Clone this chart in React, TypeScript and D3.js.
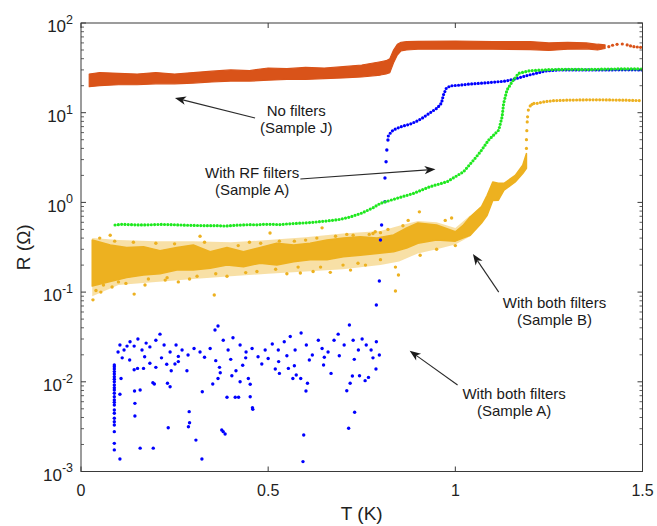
import React from "react";
import * as d3 from "d3";

const WIDTH = 657;
const HEIGHT = 526;

// ---- axes ----
const xTickValues = [0, 0.5, 1, 1.5];
const xTickLabels = ["0", "0.5", "1", "1.5"];
const yDecades = [-3, -2, -1, 0, 1, 2];
const xLabel = "T (K)";
const yLabel = "R (\u03A9)";

// ---- No filters (Sample J): dense noisy band, envelope ----
const jEnvT = [0.022, 0.05, 0.1, 0.15, 0.2, 0.25, 0.3, 0.35, 0.4, 0.45, 0.5, 0.55, 0.6, 0.65, 0.7, 0.75, 0.8, 0.815, 0.825, 0.835, 0.845, 0.855, 0.87, 0.9, 1.0, 1.1, 1.2, 1.25, 1.3, 1.35, 1.38, 1.4];
const jEnvLo = [19.5, 20.0, 20.5, 20.5, 21.0, 21.0, 21.4, 22.0, 22.5, 22.5, 23.0, 23.5, 23.5, 24.0, 24.4, 25.0, 26.3, 27.0, 28.0, 36.0, 44.0, 49.0, 50.0, 51.0, 51.0, 51.0, 50.5, 49.5, 51.0, 51.5, 50.0, 52.0];
const jEnvHi = [27.0, 28.0, 27.5, 27.0, 28.0, 27.0, 28.0, 29.0, 30.0, 29.5, 31.5, 31.0, 32.0, 31.5, 32.6, 34.0, 37.0, 38.0, 40.0, 50.0, 58.0, 61.0, 62.0, 62.5, 63.0, 62.0, 62.0, 60.0, 61.0, 60.0, 58.0, 57.0];
const jTailT = [1.41, 1.42, 1.432, 1.446, 1.459, 1.468, 1.477, 1.486, 1.495];
const jTailR = [54.5, 56.5, 57.8, 58.3, 57.0, 55.5, 54.5, 54.0, 53.6];

// ---- With RF filters (Sample A) ----
const rfT = [0.091, 0.11, 0.13, 0.155, 0.18, 0.21, 0.24, 0.265, 0.29, 0.315, 0.34, 0.365, 0.385, 0.41, 0.43, 0.45, 0.47, 0.49, 0.51, 0.53, 0.55, 0.58, 0.6, 0.62, 0.655, 0.69, 0.72, 0.75, 0.78, 0.8, 0.844, 0.888, 0.933, 0.978, 1.022, 1.049, 1.067, 1.089, 1.116, 1.125, 1.129, 1.138, 1.152, 1.169, 1.2, 1.25, 1.3, 1.35, 1.4, 1.45, 1.5];
const rfR = [0.56, 0.57, 0.565, 0.56, 0.562, 0.568, 0.565, 0.56, 0.555, 0.552, 0.55, 0.55, 0.545, 0.555, 0.56, 0.565, 0.562, 0.57, 0.57, 0.565, 0.575, 0.585, 0.592, 0.6, 0.62, 0.645, 0.69, 0.76, 0.87, 0.977, 1.11, 1.26, 1.5, 1.7, 2.2, 2.97, 3.67, 4.96, 6.41, 9.02, 12.7, 17.9, 22.2, 27.5, 29.4, 30.2, 30.5, 30.3, 30.6, 30.8, 30.7];

// ---- With both filters (Sample A) ----
const bothACurveT = [0.821, 0.826, 0.834, 0.853, 0.866, 0.88, 0.898, 0.91, 0.92, 0.93, 0.939, 0.952, 0.963, 0.968, 0.976, 0.987, 1.0, 1.013, 1.04, 1.075, 1.107, 1.134, 1.16, 1.187, 1.219, 1.241, 1.273, 1.32, 1.388, 1.44, 1.5];
const bothACurveR = [5.5, 5.9, 6.41, 6.93, 7.2, 7.48, 8.08, 8.6, 9.19, 9.8, 10.4, 11.3, 12.8, 15.7, 18.8, 19.9, 20.1, 20.3, 20.9, 21.4, 22.0, 22.5, 23.8, 25.7, 27.7, 29.2, 29.9, 30.0, 29.9, 30.1, 30.0];
const bothARiseT = [0.789, 0.797, 0.8, 0.803, 0.812, 0.812, 0.815, 0.817, 0.82];
const bothARiseR = [0.0718, 0.133, 0.381, 0.56, 1.02, 1.87, 2.84, 3.84, 4.96];
const bothAColumnT = 0.089;
const bothAColumnR = [0.0154, 0.0147, 0.0139, 0.013, 0.0122, 0.0114, 0.0107, 0.01, 0.0092, 0.0086, 0.0081, 0.00745, 0.00682, 0.00627, 0.0059, 0.00551, 0.00485, 0.00446, 0.00392, 0.00359, 0.0033, 0.00278, 0.00206, 0.00174];
const bothAScatter: [number, number][] = [
  [0.104, 0.00138], [0.104, 0.00726], [0.107, 0.0109], [0.142, 0.0136], [0.151, 0.0141], [0.167, 0.0141], [0.143, 0.00789], [0.144, 0.00575], [0.144, 0.00416], [0.158, 0.0081], [0.158, 0.00182], [0.184, 0.0161], [0.192, 0.00977], [0.196, 0.00945], [0.193, 0.00182], [0.2, 0.0145], [0.229, 0.0157], [0.231, 0.00962], [0.238, 0.00881], [0.233, 0.00308], [0.241, 0.0133], [0.251, 0.0158], [0.26, 0.0168], [0.283, 0.0133], [0.289, 0.00465], [0.29, 0.0035], [0.287, 0.00316], [0.307, 0.00224], [0.324, 0.00776], [0.323, 0.00138], [0.352, 0.00945], [0.366, 0.0109], [0.372, 0.0126], [0.37, 0.0145], [0.376, 0.0029], [0.38, 0.00278], [0.385, 0.00262], [0.39, 0.00672], [0.403, 0.0117], [0.412, 0.00672], [0.421, 0.00672], [0.414, 0.0133], [0.425, 0.01], [0.432, 0.0153], [0.447, 0.0109], [0.452, 0.00938], [0.452, 0.00682], [0.458, 0.00514], [0.459, 0.00493], [0.483, 0.0158], [0.519, 0.0139], [0.53, 0.0124], [0.528, 0.0168], [0.554, 0.0141], [0.566, 0.0109], [0.57, 0.0151], [0.575, 0.0119], [0.587, 0.0109], [0.601, 0.00789], [0.605, 0.00962], [0.595, 0.00255], [0.593, 0.00129], [0.648, 0.0154], [0.668, 0.0124], [0.71, 0.00796], [0.715, 0.00303], [0.719, 0.00962], [0.725, 0.0116], [0.731, 0.00457], [0.744, 0.0117], [0.759, 0.0103], [0.768, 0.0112], [0.788, 0.0139],
  [0.099, 0.0215], [0.104, 0.0257], [0.115, 0.0226], [0.123, 0.025], [0.131, 0.028], [0.142, 0.025], [0.152, 0.03], [0.163, 0.0226], [0.174, 0.027], [0.184, 0.0245], [0.2, 0.029], [0.211, 0.034], [0.222, 0.0257], [0.238, 0.0215], [0.254, 0.0257], [0.27, 0.0226], [0.286, 0.0199], [0.302, 0.0235], [0.318, 0.0215], [0.345, 0.0235], [0.358, 0.0378], [0.366, 0.0419], [0.38, 0.029], [0.393, 0.0226], [0.406, 0.031], [0.425, 0.0257], [0.441, 0.0215], [0.457, 0.0235], [0.473, 0.019], [0.492, 0.0226], [0.511, 0.0264], [0.527, 0.0226], [0.543, 0.028], [0.559, 0.032], [0.572, 0.0226], [0.588, 0.035], [0.602, 0.0257], [0.618, 0.0199], [0.634, 0.029], [0.644, 0.0235], [0.66, 0.0215], [0.676, 0.029], [0.687, 0.034], [0.703, 0.0257], [0.717, 0.043], [0.727, 0.029], [0.741, 0.0226], [0.751, 0.03], [0.762, 0.0257], [0.775, 0.0226], [0.789, 0.028], [0.797, 0.0199],
  [0.11, 0.0185], [0.13, 0.0175], [0.17, 0.019], [0.215, 0.0185], [0.26, 0.0192], [0.33, 0.0188], [0.36, 0.0172], [0.4, 0.0178], [0.44, 0.0185], [0.5, 0.0182], [0.55, 0.0195], [0.61, 0.0175], [0.65, 0.0188], [0.69, 0.0195], [0.73, 0.0178], [0.78, 0.0185],
];

// ---- With both filters (Sample B) ----
// dense core envelope
const bothBEnvT = [0.03, 0.078, 0.122, 0.167, 0.211, 0.256, 0.3, 0.345, 0.39, 0.434, 0.479, 0.523, 0.568, 0.612, 0.657, 0.701, 0.746, 0.791, 0.835, 0.87, 0.9, 0.95, 1.0, 1.02, 1.04, 1.07, 1.085, 1.1, 1.115, 1.13, 1.16, 1.18, 1.19];
const bothBEnvLo = [0.117, 0.131, 0.145, 0.155, 0.16, 0.176, 0.176, 0.184, 0.2, 0.192, 0.21, 0.2, 0.218, 0.23, 0.23, 0.248, 0.258, 0.27, 0.282, 0.31, 0.35, 0.38, 0.37, 0.4, 0.43, 0.59, 0.72, 1.05, 1.06, 1.37, 1.69, 2.1, 2.4];
const bothBEnvHi = [0.381, 0.335, 0.314, 0.321, 0.29, 0.314, 0.335, 0.282, 0.314, 0.282, 0.314, 0.35, 0.335, 0.35, 0.381, 0.4, 0.415, 0.4, 0.433, 0.52, 0.59, 0.56, 0.47, 0.55, 0.69, 0.9, 1.2, 1.69, 1.64, 1.63, 2.0, 2.6, 3.5];
// sparser outer spread of the noisy points
const bothBOuterT = [0.03, 0.1, 0.2, 0.3, 0.4, 0.5, 0.6, 0.7, 0.8, 0.85, 0.9, 0.95, 1.0, 1.04];
const bothBOuterLo = [0.09, 0.12, 0.13, 0.14, 0.15, 0.16, 0.17, 0.18, 0.2, 0.22, 0.27, 0.3, 0.34, 0.42];
const bothBOuterHi = [0.4, 0.38, 0.37, 0.37, 0.36, 0.38, 0.41, 0.45, 0.48, 0.55, 0.62, 0.6, 0.52, 0.72];
const bothBOutliers: [number, number][] = [
  [0.032, 0.082], [0.053, 0.1], [0.142, 0.095], [0.356, 0.093], [0.04, 0.104], [0.083, 0.114], [0.171, 0.12], [0.225, 0.136], [0.29, 0.14], [0.39, 0.15], [0.586, 0.163], [0.666, 0.166], [0.72, 0.176], [0.84, 0.19], [0.84, 0.103], [0.848, 0.155], [0.906, 0.258], [0.904, 0.785], [0.727, 0.43], [0.505, 0.456], [0.318, 0.42], [0.078, 0.43], [0.644, 0.52], [0.786, 0.47], [0.973, 0.63], [0.99, 0.67], [0.874, 0.63],
  [0.12, 0.125], [0.26, 0.13], [0.47, 0.17], [0.55, 0.16], [0.62, 0.17], [0.76, 0.2], [0.95, 0.3], [1.0, 0.33], [0.2, 0.35], [0.45, 0.36], [0.6, 0.38], [0.78, 0.45], [0.82, 0.5], [0.86, 0.55],
  [0.05, 0.4], [0.09, 0.37], [0.14, 0.36], [0.25, 0.345], [0.33, 0.36], [0.42, 0.33], [0.48, 0.35], [0.53, 0.37], [0.57, 0.37], [0.63, 0.4], [0.68, 0.42], [0.71, 0.44], [0.8, 0.46], [0.77, 0.44],
  [0.06, 0.12], [0.1, 0.13], [0.18, 0.14], [0.23, 0.145], [0.31, 0.15], [0.36, 0.16], [0.44, 0.165], [0.52, 0.18], [0.58, 0.19], [0.64, 0.19], [0.7, 0.2], [0.74, 0.21], [0.8, 0.23],
];
const bothBRiseT = [1.19, 1.19, 1.191, 1.192, 1.193, 1.195, 1.2, 1.205];
const bothBRiseR = [4.0, 5.0, 6.3, 7.9, 9.0, 10.7, 11.9, 12.4];
const bothBPlateauT = [1.21, 1.218, 1.236, 1.26, 1.3, 1.35, 1.4, 1.45, 1.5];
const bothBPlateauR = [12.7, 12.7, 13.2, 13.6, 13.8, 13.9, 13.9, 13.8, 13.6];

// ---- annotations ----
const annotations = [
  { lines: ["No filters", "(Sample J)"], T: 0.575, R: 9.18, tail: [0.465, 8.73], head: [0.251, 14.6] },
  { lines: ["With RF filters", "(Sample A)"], T: 0.457, R: 1.87, tail: [0.586, 1.82], head: [0.947, 2.34] },
  { lines: ["With both filters", "(Sample B)"], T: 1.265, R: 0.0665, tail: [1.116, 0.1], head: [1.047, 0.266] },
  { lines: ["With both filters", "(Sample A)"], T: 1.157, R: 0.00643, tail: [1.006, 0.0092], head: [0.878, 0.0222] },
];

const COL_J = "#D95319";
const COL_B = "#EDB120";
const COL_RF = "#1FE81F";
const COL_A = "#0000FF";
const FONT = "'Liberation Sans', Arial, Helvetica, sans-serif";

export default function App() {
  const x = d3.scaleLinear().domain([0, 1.5]).range([81, 642.5]);
  const y = d3.scaleLog().domain([1e-3, 1e2]).range([471.5, 23]);
  const [x0, x1] = x.range();
  const [yb, yt] = y.range();

  const areaPath = (T: number[], lo: number[], hi: number[]) =>
    d3.area<number>().x((_, i) => x(T[i])).y0((_, i) => y(lo[i])).y1((_, i) => y(hi[i]))(T) || "";
  const linePath = (T: number[], R: number[]) =>
    d3.line<number>().x((_, i) => x(T[i])).y((_, i) => y(R[i]))(T) || "";

  const minor: number[] = [];
  for (let k = -3; k < 2; k++) for (let m = 2; m <= 9; m++) minor.push(m * Math.pow(10, k));

  const dotted = { fill: "none", strokeLinecap: "round" as const, strokeDasharray: "0 3.3", strokeWidth: 3.2 };

  const arrow = (tail: number[], head: number[], key: number) => {
    const tx = x(tail[0]), ty = y(tail[1]), hx = x(head[0]), hy = y(head[1]);
    const a = Math.atan2(hy - ty, hx - tx);
    const L = 11, Wd = 4.2, N = 8;
    const cos = Math.cos(a), sin = Math.sin(a);
    const p = (along: number, perp: number) => `${hx - along * cos - perp * sin},${hy - along * sin + perp * cos}`;
    return (
      <g key={key}>
        <line x1={tx} y1={ty} x2={hx - N * cos} y2={hy - N * sin} stroke="#2a2a2a" strokeWidth={1.1} />
        <polygon points={`${p(0, 0)} ${p(L, Wd)} ${p(N, 0)} ${p(L, -Wd)}`} fill="#1a1a1a" />
      </g>
    );
  };

  return (
    <svg width={WIDTH} height={HEIGHT} style={{ position: "absolute", left: 0, top: 0, background: "#fff" }} fontFamily={FONT}>
      <rect x={0} y={0} width={WIDTH} height={HEIGHT} fill="#fff" />
      <defs>
        <clipPath id="plot">
          <rect x={x0} y={yt} width={x1 - x0} height={yb - yt} />
        </clipPath>
      </defs>

      <g clipPath="url(#plot)">
        {/* Sample B (yellow) */}
        <path d={areaPath(bothBOuterT, bothBOuterLo, bothBOuterHi)} fill={COL_B} fillOpacity={0.4} />
        <path d={areaPath(bothBEnvT, bothBEnvLo, bothBEnvHi)} fill={COL_B} stroke={COL_B} strokeWidth={1.5} strokeLinejoin="round" />
        {bothBOutliers.map(([t, r], i) => (
          <circle key={"bo" + i} cx={x(t)} cy={y(r)} r={1.7} fill={COL_B} />
        ))}
        {bothBRiseT.map((t, i) => (
          <circle key={"br" + i} cx={x(t)} cy={y(bothBRiseR[i])} r={1.6} fill={COL_B} />
        ))}
        <path d={linePath(bothBPlateauT, bothBPlateauR)} stroke={COL_B} {...dotted} />

        {/* Sample A both filters (blue) */}
        <path d={linePath(bothACurveT, bothACurveR)} stroke={COL_A} {...dotted} />
        {bothARiseT.map((t, i) => (
          <circle key={"ar" + i} cx={x(t)} cy={y(bothARiseR[i])} r={1.7} fill={COL_A} />
        ))}
        {bothAColumnR.map((r, i) => (
          <circle key={"ac" + i} cx={x(bothAColumnT)} cy={y(r)} r={1.7} fill={COL_A} />
        ))}
        {bothAScatter.map(([t, r], i) => (
          <circle key={"as" + i} cx={x(t)} cy={y(r)} r={1.7} fill={COL_A} />
        ))}

        {/* RF filters (green) */}
        <path d={linePath(rfT, rfR)} stroke={COL_RF} {...dotted} />

        {/* Sample J (orange) */}
        <path d={areaPath(jEnvT, jEnvLo, jEnvHi)} fill={COL_J} stroke={COL_J} strokeWidth={1.2} strokeLinejoin="round" />
        {jTailT.map((t, i) => (
          <circle key={"jt" + i} cx={x(t)} cy={y(jTailR[i])} r={1.6} fill={COL_J} />
        ))}
      </g>

      {/* frame */}
      <rect x={x0} y={yt} width={x1 - x0} height={yb - yt} fill="none" stroke="#3a3a3a" strokeWidth={1} />

      {/* y ticks */}
      {yDecades.map((e) => {
        const v = Math.pow(10, e);
        return (
          <g key={"yd" + e}>
            <line x1={x0} x2={x0 + 5} y1={y(v)} y2={y(v)} stroke="#3a3a3a" />
            <line x1={x1} x2={x1 - 5} y1={y(v)} y2={y(v)} stroke="#3a3a3a" />
            <text x={73} y={y(v) + 9.3} textAnchor="end" fontSize={17} fill="#222">
              10
              <tspan dy={-8.5} fontSize={12.5}>{String(e)}</tspan>
            </text>
          </g>
        );
      })}
      {minor.map((v, i) => (
        <g key={"ym" + i}>
          <line x1={x0} x2={x0 + 3} y1={y(v)} y2={y(v)} stroke="#3a3a3a" strokeWidth={0.8} />
          <line x1={x1} x2={x1 - 3} y1={y(v)} y2={y(v)} stroke="#3a3a3a" strokeWidth={0.8} />
        </g>
      ))}

      {/* x ticks */}
      {xTickValues.map((v, i) => (
        <g key={"xt" + i}>
          <line x1={x(v)} x2={x(v)} y1={yb} y2={yb - 5} stroke="#3a3a3a" />
          <line x1={x(v)} x2={x(v)} y1={yt} y2={yt + 5} stroke="#3a3a3a" />
          <text x={x(v)} y={496} textAnchor="middle" fontSize={16} fill="#222">{xTickLabels[i]}</text>
        </g>
      ))}

      {/* axis labels */}
      <text x={(x0 + x1) / 2} y={520} textAnchor="middle" fontSize={19} fill="#222">{xLabel}</text>
      <text transform={`translate(30,${(yb + yt) / 2}) rotate(-90)`} textAnchor="middle" fontSize={19} fill="#222">{yLabel}</text>

      {/* annotations */}
      {annotations.map((a, i) => (
        <g key={"an" + i}>
          {arrow(a.tail, a.head, i)}
          {a.lines.map((ln, j) => (
            <text key={j} x={x(a.T)} y={y(a.R) + j * 17} textAnchor="middle" fontSize={15} fill="#1a1a1a">{ln}</text>
          ))}
        </g>
      ))}
    </svg>
  );
}
